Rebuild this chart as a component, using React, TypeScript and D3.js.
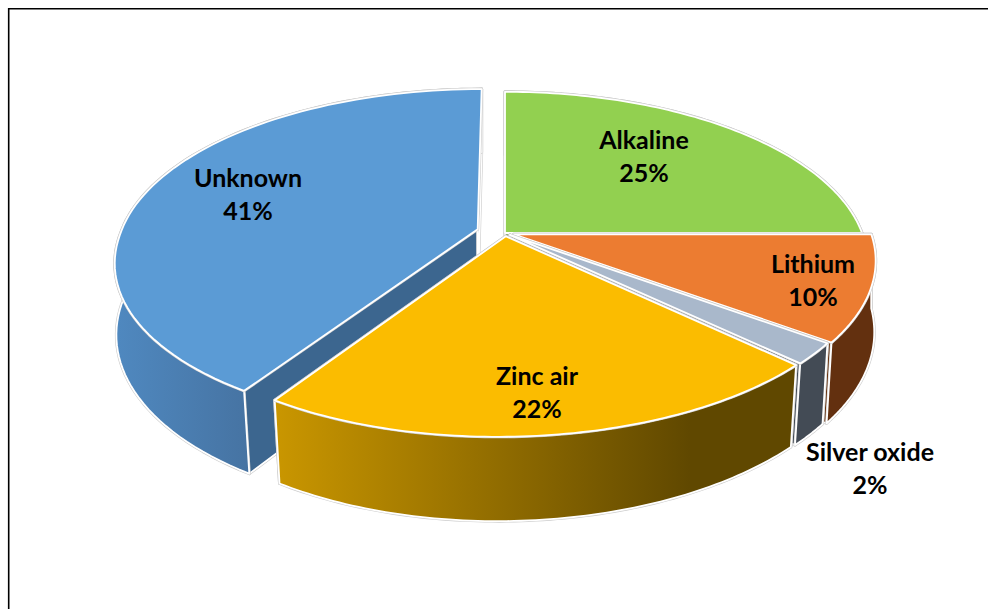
import React from "react";
import * as d3 from "d3";

// Battery chemistry shares, clockwise from twelve o'clock
const categories = ["Alkaline", "Lithium", "Silver oxide", "Zinc air", "Unknown"];
const shares = [25, 10, 2, 22, 41];

// Exploded offset of each slice, as a fraction of the radius
const explode = [0, 0.026, 0.018, 0.02, 0.08];

const topColors = ["#92d050", "#ec7c31", "#a9b8cb", "#fbbc00", "#5b9bd5"];
const faceColors = ["#5c8a30", "#6a3511", "#434b55", "#604800", "#3c668f"];
const wallColors = ["#5c8a30", "#63300f", "#434b55", "url(#zincWall)", "url(#unknownWall)"];

// Label anchors: centre x, first-line baseline
const labelAnchors: [number, number][] = [
  [644, 149],
  [813, 273],
  [870, 461],
  [537, 385],
  [248, 187],
];

const WIDTH = 988;
const HEIGHT = 609;
const CX = 505;
const CY = 233;
const RX = 357;
const RY = 165.2;
const PERSPECTIVE = 0.17;
const FRONT_SKEW = 7;
const BASE_TAPER = 0.025;
const DEPTH = 74;

type Pt = [number, number];

// Project a point on the pie disc (angle clockwise from the back, radius 0..1)
// to the screen; level 0 is the top surface, level 1 is the base.
function project(theta: number, r: number, e: number, mid: number, level: number): Pt {
  const u = r * Math.sin(theta) + e * Math.sin(mid);
  const v = -r * Math.cos(theta) - e * Math.cos(mid);
  const w = 1 - PERSPECTIVE * v;
  const front = Math.max(v, 0);
  const s = level ? 1 - BASE_TAPER * front : 1;
  return [CX + (s * RX * u - FRONT_SKEW * front) / w, CY + (s * RY * v) / w + (level * DEPTH) / w];
}

const toPath = d3.line<Pt>().x((p) => p[0]).y((p) => p[1]);
const pieLayout = d3.pie<number>().sort(null).startAngle(0).endAngle(2 * Math.PI);
const arcs = pieLayout(shares);
const paintOrder = [4, 0, 1, 2, 3];

function rim(a0: number, a1: number, e: number, mid: number, level: number): Pt[] {
  return d3.range(0, 81).map((i) =>
    project(d3.interpolateNumber(a0, a1)(i / 80), 1, e, mid, level)
  );
}

function Slice({ index }: { index: number }) {
  const { startAngle: a0, endAngle: a1 } = arcs[index];
  const mid = (a0 + a1) / 2;
  const e = explode[index];
  const apexTop = project(0, 0, e, mid, 0);
  const apexBase = project(0, 0, e, mid, 1);
  const rimTop = rim(a0, a1, e, mid, 0);
  const rimBase = rim(a0, a1, e, mid, 1);
  const faces = [
    [apexTop, rimTop[0], rimBase[0], apexBase],
    [apexTop, rimTop[80], rimBase[80], apexBase],
  ];
  const wall = [...rimTop, ...[...rimBase].reverse()];
  const top = [apexTop, ...rimTop];
  const shapes: { d: string; fill: string }[] = [
    ...faces.map((f) => ({ d: toPath(f)! + "Z", fill: faceColors[index] })),
    { d: toPath(wall)! + "Z", fill: wallColors[index] },
    { d: toPath(top)! + "Z", fill: topColors[index] },
  ];
  return (
    <g strokeLinejoin="round">
      {shapes.map((s, i) => (
        <g key={i}>
          <path d={s.d} fill="none" stroke="#cdcdcd" strokeWidth={3} />
          <path d={s.d} fill={s.fill} stroke="#ffffff" strokeWidth={1.8} />
        </g>
      ))}
    </g>
  );
}

export default function App() {
  return (
    <svg
      width={WIDTH}
      height={HEIGHT}
      viewBox={`0 0 ${WIDTH} ${HEIGHT}`}
      style={{ position: "absolute", left: 0, top: 0, display: "block" }}
    >
      <defs>
        <linearGradient id="zincWall" gradientUnits="userSpaceOnUse" x1={277} x2={690} y1={0} y2={0}>
          <stop offset="0" stopColor="#c99600" />
          <stop offset="1" stopColor="#604800" />
        </linearGradient>
        <linearGradient id="unknownWall" gradientUnits="userSpaceOnUse" x1={118} x2={250} y1={0} y2={0}>
          <stop offset="0" stopColor="#4f88bf" />
          <stop offset="1" stopColor="#4673a2" />
        </linearGradient>
      </defs>
      <rect width={WIDTH} height={HEIGHT} fill="#ffffff" />
      <path d={`M8.7 ${HEIGHT}V8.7H${WIDTH}`} fill="none" stroke="#000000" strokeWidth={1.6} />
      {paintOrder.map((i) => (
        <Slice key={categories[i]} index={i} />
      ))}
      <g fontFamily="Lato, 'Open Sans', sans-serif" fontWeight={700} fontSize={25} textAnchor="middle" fill="#000000">
        {categories.map((c, i) => (
          <text key={c} x={labelAnchors[i][0]} y={labelAnchors[i][1]}>
            <tspan x={labelAnchors[i][0]}>{c}</tspan>
            <tspan x={labelAnchors[i][0]} dy={33}>{`${shares[i]}%`}</tspan>
          </text>
        ))}
      </g>
    </svg>
  );
}
